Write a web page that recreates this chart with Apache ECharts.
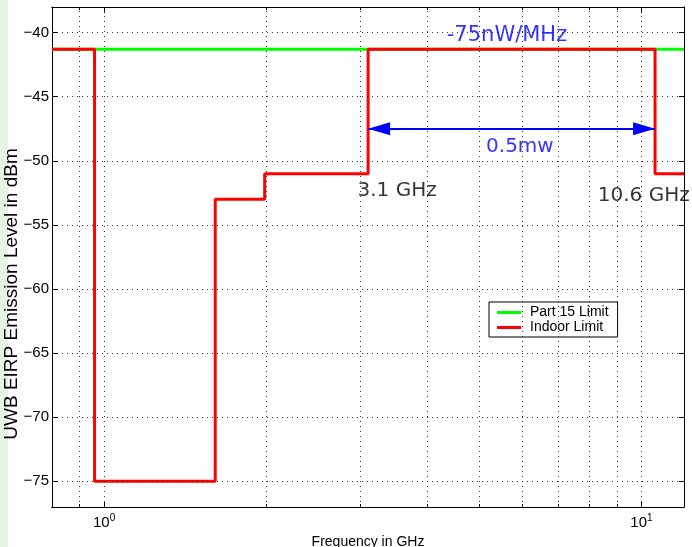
<!DOCTYPE html>
<html><head><meta charset="utf-8">
<script src="https://cdn.jsdelivr.net/npm/echarts@6/dist/echarts.min.js"></script>
<style>html,body{margin:0;padding:0;background:#fff;}
#strip{position:absolute;left:0;top:0;width:8px;height:547px;background:#e9f1e9;}
#c{position:absolute;left:0;top:0;width:692px;height:547px;}</style>
</head><body><div id="strip"></div><div id="c"></div>
<script>
// Data
const freqEdgesGHz = [0.8, 0.96, 1.61, 1.99, 3.1, 10.6, 12];
const indoorLimitDbm = [-41.3, -75, -53, -51, -41.3, -51, -51];
const part15FreqGHz = [0.8, 12];
const part15LimitDbm = [-41.3, -41.3];
const xGridGHz = [0.9, 1, 2, 3, 4, 5, 6, 7, 8, 9, 10];
const xMajorTicks = [1, 10];
const yTicks = [-75, -70, -65, -60, -55, -50, -45, -40];
const bandEdgesGHz = [3.1, 10.6];
const arrowLevelDbm = -47.5;

const FONT = '"Liberation Sans", Arial, Helvetica, sans-serif';
const AFONT = '"DejaVu Sans", sans-serif';
const minus = v => String(v).replace('-', '\u2212');

const chart = echarts.init(document.getElementById('c'), null, {renderer: 'canvas'});

const gridStyle = {color: '#333', width: 1, type: [1, 4]};

const xBase = {type: 'log', logBase: 10, min: 0.8, max: 12, gridIndex: 0,
  splitLine: {show: false}, minorTick: {show: false}, minorSplitLine: {show: false},
  axisLine: {show: true, onZero: false, lineStyle: {color: '#000', width: 1}}};
const yBase = {type: 'value', min: -77, max: -38, gridIndex: 0,
  splitLine: {show: false},
  axisLine: {show: true, onZero: false, lineStyle: {color: '#000', width: 1}}};

const option = {
  animation: false,
  backgroundColor: 'transparent',
  grid: {left: 52, right: 8, top: 7, bottom: 40, containLabel: false, outerBoundsMode: 'none'},
  legend: {
    data: ['Part 15 Limit', 'Indoor Limit'],
    orient: 'vertical', left: 489, top: 302,
    icon: 'rect', itemWidth: 24, itemHeight: 3, itemGap: 0,
    padding: [3, 9, 2, 8],
    backgroundColor: '#fff', borderColor: '#000', borderWidth: 1,
    textStyle: {fontFamily: FONT, fontSize: 14, color: '#000', lineHeight: 15, padding: [0, 0, 0, 4]}
  },
  xAxis: [
    Object.assign({}, xBase, {position: 'bottom',
      name: 'Frequency in GHz', nameLocation: 'middle', nameGap: 23,
      nameTextStyle: {fontFamily: FONT, fontSize: 14, color: '#000'},
      axisTick: {show: true, inside: true, length: 6, customValues: xMajorTicks, lineStyle: {color: '#000'}},
      axisLabel: {show: true, margin: 6, customValues: xMajorTicks,
        formatter: v => '{b|10}{s|' + Math.round(Math.log10(v)) + '}',
        rich: {b: {fontFamily: FONT, fontSize: 15, color: '#000'},
               s: {fontFamily: FONT, fontSize: 10, color: '#000', padding: [0, 0, 9, 0]}}}}),
    Object.assign({}, xBase, {position: 'top',
      axisTick: {show: true, inside: true, length: 6, customValues: xMajorTicks, lineStyle: {color: '#000'}},
      axisLabel: {show: false}}),
    Object.assign({}, xBase, {position: 'bottom',
      axisTick: {show: true, inside: true, length: 3, customValues: xGridGHz, lineStyle: {color: '#000'}},
      axisLabel: {show: false}}),
    Object.assign({}, xBase, {position: 'top',
      axisTick: {show: true, inside: true, length: 3, customValues: xGridGHz, lineStyle: {color: '#000'}},
      axisLabel: {show: false}})
  ],
  yAxis: [
    Object.assign({}, yBase, {position: 'left',
      axisTick: {show: true, inside: true, length: 5, customValues: yTicks, lineStyle: {color: '#000'}},
      axisLabel: {show: true, margin: 3, customValues: yTicks, formatter: minus,
        fontFamily: FONT, fontSize: 15, color: '#000'}}),
    Object.assign({}, yBase, {position: 'right',
      axisTick: {show: true, inside: true, length: 5, customValues: yTicks, lineStyle: {color: '#000'}},
      axisLabel: {show: false}})
  ],
  graphic: [{
    type: 'text', rotation: Math.PI / 2,
    x: 12, y: 294,
    style: {text: 'UWB EIRP Emission Level in dBm', font: '19px ' + FONT, fill: '#000',
      align: 'center', verticalAlign: 'middle'}
  }],
  series: [
    {
      name: 'grid', type: 'line', data: [], xAxisIndex: 0, yAxisIndex: 0, z: 1, silent: true,
      markLine: {
        silent: true, symbol: 'none', animation: false,
        label: {show: false}, lineStyle: gridStyle,
        data: xGridGHz.map(v => ({xAxis: v})).concat(yTicks.map(v => ({yAxis: v})))
      }
    },
    {
      name: 'Part 15 Limit', type: 'line', xAxisIndex: 0, yAxisIndex: 0, z: 3,
      showSymbol: false, symbol: 'none', color: '#00ff00',
      lineStyle: {color: '#00ff00', width: 3},
      data: part15FreqGHz.map((f, i) => [f, part15LimitDbm[i]])
    },
    {
      name: 'Indoor Limit', type: 'line', xAxisIndex: 0, yAxisIndex: 0, z: 4,
      step: 'end', showSymbol: false, symbol: 'none', color: '#ff0000',
      lineStyle: {color: '#ff0000', width: 3},
      data: freqEdgesGHz.map((f, i) => [f, indoorLimitDbm[i]])
    },
    {
      name: 'arrow', type: 'line', data: [], xAxisIndex: 0, yAxisIndex: 0, z: 5,
      markLine: {
        silent: true, animation: false, symbol: ['triangle', 'triangle'], symbolSize: [13, 22],
        symbolOffset: [[0, '50%'], [0, '50%']],
        label: {show: false}, lineStyle: {color: '#0000ff', width: 2, type: 'solid'},
        itemStyle: {color: '#0000ff'},
        data: [[{coord: [bandEdgesGHz[0], arrowLevelDbm]}, {coord: [bandEdgesGHz[1], arrowLevelDbm]}]]
      }
    },
    {
      name: 'notes', type: 'scatter', xAxisIndex: 0, yAxisIndex: 0, z: 6, symbolSize: 0, silent: true,
      label: {show: true, position: 'inside', formatter: p => p.name,
        fontFamily: AFONT, fontSize: 20, color: '#000', align: 'center', verticalAlign: 'middle'},
      data: [
        {name: '-75nW/MHz', value: [5.62, -40.2], label: {color: '#0000ff', fontSize: 21}},
        {name: '0.5mw', value: [5.94, -48.9], label: {color: '#0000ff'}},
        {name: '3.1 GHz', value: [3.51, -52.3]},
        {name: '10.6 GHz', value: [10.1, -52.7]}
      ]
    }
  ]
};
chart.setOption(option);
</script></body></html>
